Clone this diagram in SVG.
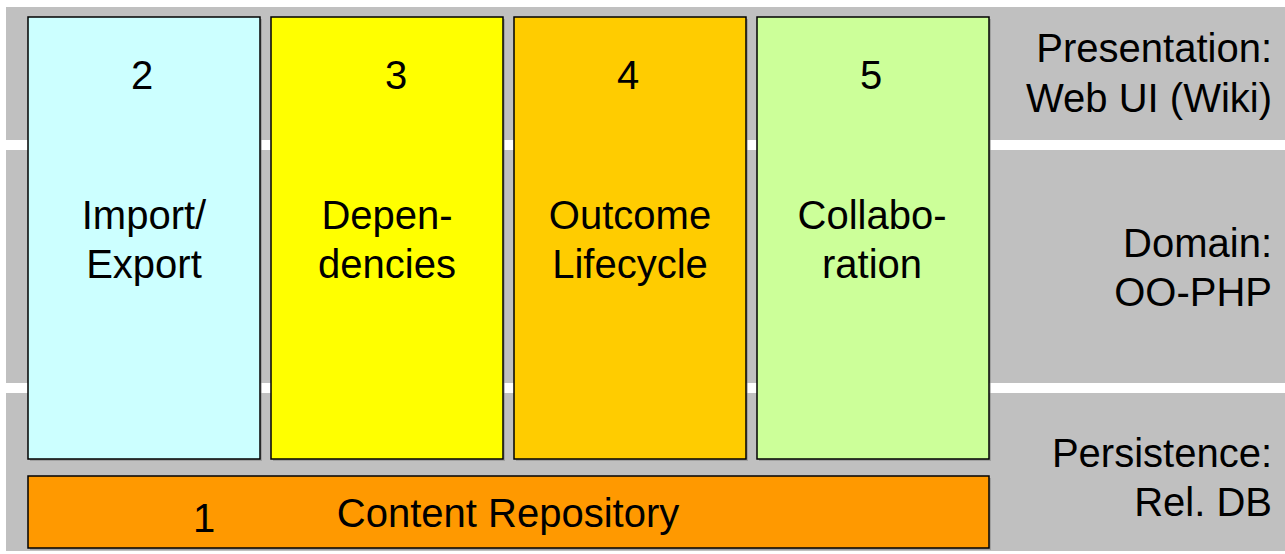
<svg xmlns="http://www.w3.org/2000/svg" width="1285" height="554" viewBox="0 0 1285 554">
<defs>
<style>
.band{fill:#C0C0C0}
.box{stroke:#000;stroke-width:1.5}
.sh{fill:#808080;opacity:0.5}
text{font-family:"Liberation Sans",Arial,sans-serif;font-size:40px;fill:#000}
.c{text-anchor:middle}
.r{text-anchor:end}
</style>
</defs>
<rect width="1285" height="554" fill="#fff"/>
<g id="layers">
<rect class="band" x="6" y="7" width="1279" height="133"/>
<rect class="band" x="6" y="150" width="1279" height="233"/>
<rect class="band" x="6" y="393" width="1279" height="158"/>
<text class="r" x="1272" y="62">Presentation:</text>
<text class="r" x="1272" y="112">Web UI (Wiki)</text>
<text class="r" x="1272" y="257">Domain:</text>
<text class="r" x="1272" y="306">OO-PHP</text>
<text class="r" x="1272" y="467">Persistence:</text>
<text class="r" x="1272" y="516">Rel. DB</text>
</g>
<g id="n2">
<rect class="sh" x="30" y="19" width="232" height="442"/>
<rect class="box" x="28" y="17" width="232" height="442" fill="#CCFFFF"/>
<text class="c" x="142" y="89">2</text>
<text class="c" x="144" y="229">Import/</text>
<text class="c" x="144" y="278">Export</text>
</g>
<g id="n3">
<rect class="sh" x="273" y="19" width="232" height="442"/>
<rect class="box" x="271" y="17" width="232" height="442" fill="#FFFF00"/>
<text class="c" x="396" y="89">3</text>
<text class="c" x="387" y="229">Depen-</text>
<text class="c" x="387" y="278">dencies</text>
</g>
<g id="n4">
<rect class="sh" x="516" y="19" width="232" height="442"/>
<rect class="box" x="514" y="17" width="232" height="442" fill="#FFCC00"/>
<text class="c" x="628" y="89">4</text>
<text class="c" x="630" y="229">Outcome</text>
<text class="c" x="630" y="278">Lifecycle</text>
</g>
<g id="n5">
<rect class="sh" x="759" y="19" width="232" height="442"/>
<rect class="box" x="757" y="17" width="232" height="442" fill="#CCFF99"/>
<text class="c" x="871" y="89">5</text>
<text class="c" x="872" y="229">Collabo-</text>
<text class="c" x="872" y="278">ration</text>
</g>
<g id="n1">
<rect class="sh" x="30" y="478" width="961" height="72"/>
<rect class="box" x="28" y="476" width="961" height="72" fill="#FF9900"/>
<text class="c" x="204" y="532">1</text>
<text class="c" x="508" y="527">Content Repository</text>
</g>
<g id="connectors"/>
</svg>
